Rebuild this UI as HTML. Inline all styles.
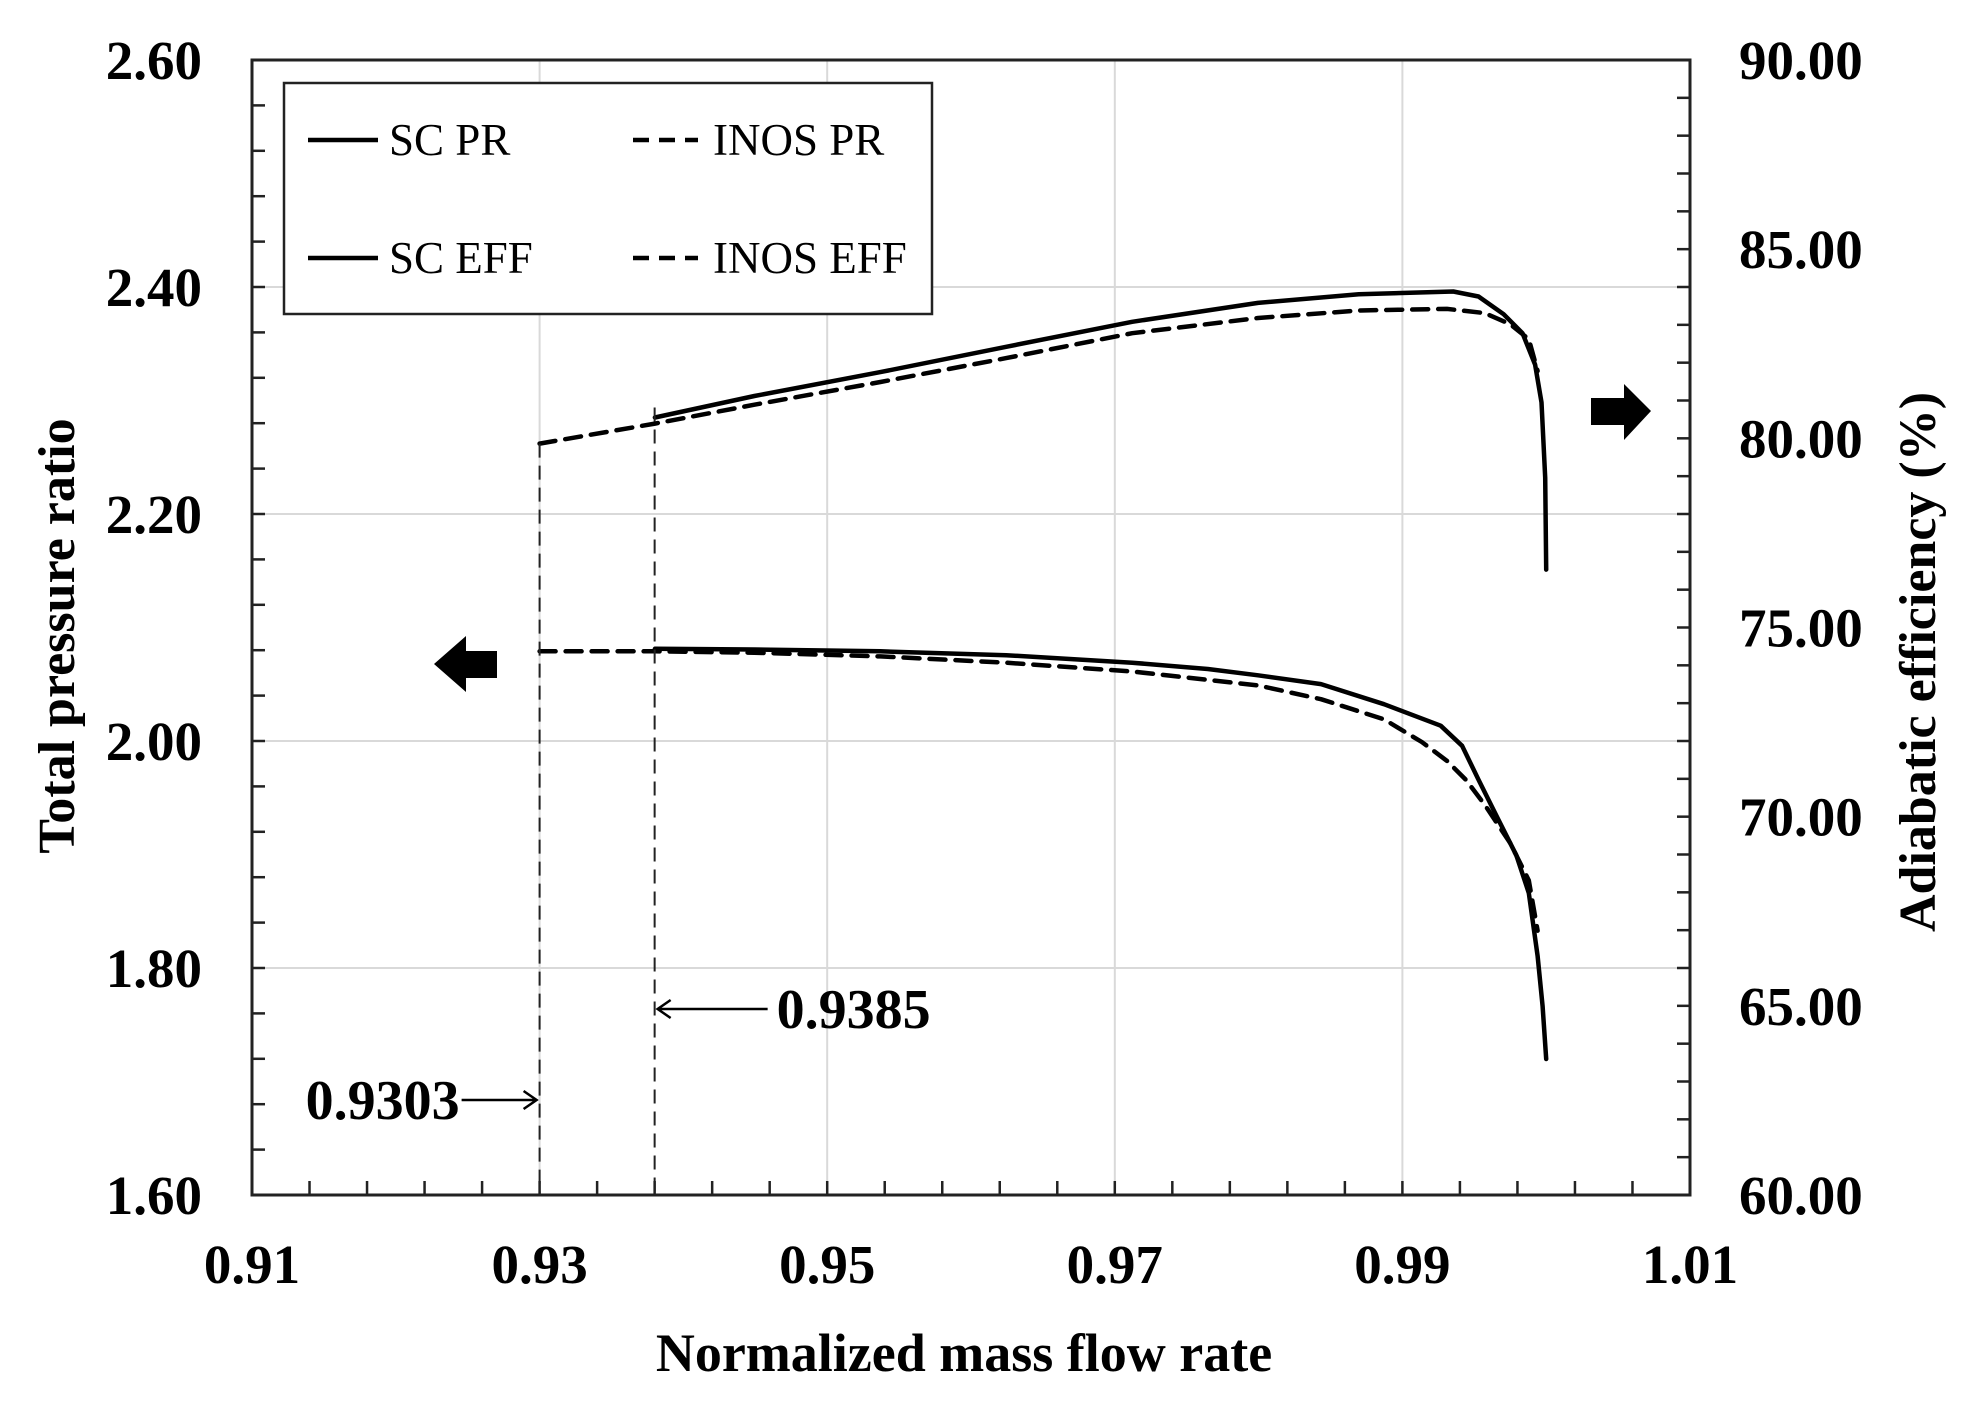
<!DOCTYPE html>
<html><head><meta charset="utf-8"><style>
html,body{margin:0;padding:0;background:#fff}
svg{display:block}
text{font-family:"Liberation Serif","Times New Roman",serif;fill:#000}
</style></head><body>
<svg id="chart" width="1972" height="1408" viewBox="0 0 1972 1408" xmlns="http://www.w3.org/2000/svg">
<g id="grid"></g>
<g id="ticks"></g>
<g id="series"></g>
<rect x="252" y="60" width="1438" height="1135" fill="none" stroke="#222" stroke-width="3"/>
<g id="labels"></g>
<text x="964" y="1371" font-size="54" font-weight="bold" text-anchor="middle">Normalized mass flow rate</text>
<text transform="translate(74,636) rotate(-90)" font-size="52" font-weight="bold" text-anchor="middle">Total pressure ratio</text>
<text transform="translate(1935,662) rotate(-90)" font-size="52" font-weight="bold" text-anchor="middle">Adiabatic efficiency (%)</text>
<g>
<rect x="284" y="83" width="648" height="231" fill="#fff" stroke="#222" stroke-width="2.5"/>
<line x1="308" y1="140" x2="378" y2="140" stroke="#000" stroke-width="4.5"/>
<text x="389" y="155" font-size="45">SC PR</text>
<line x1="633" y1="140" x2="698" y2="140" stroke="#000" stroke-width="4.5" stroke-dasharray="16,10"/>
<text x="713" y="155" font-size="45">INOS PR</text>
<line x1="308" y1="258" x2="378" y2="258" stroke="#000" stroke-width="4.5"/>
<text x="389" y="273" font-size="45">SC EFF</text>
<line x1="633" y1="258" x2="698" y2="258" stroke="#000" stroke-width="4.5" stroke-dasharray="16,10"/>
<text x="713" y="273" font-size="45">INOS EFF</text>
</g>
<polygon points="1591,398 1624,398 1624,384 1651,411 1624,440 1624,425 1591,425" fill="#000"/>
<polygon points="497,651 466,651 466,636 434,664 466,692 466,678 497,678" fill="#000"/>
<g id="annot"></g>
</svg>
<script>
const xTicks=[0.91,0.93,0.95,0.97,0.99,1.01];
const xTickLabels=["0.91","0.93","0.95","0.97","0.99","1.01"];
const yLeftTicks=[1.6,1.8,2.0,2.2,2.4,2.6];
const yLeftLabels=["1.60","1.80","2.00","2.20","2.40","2.60"];
const yRightTicks=[60,65,70,75,80,85,90];
const yRightLabels=["60.00","65.00","70.00","75.00","80.00","85.00","90.00"];
const scEffX=[0.93802,0.94494,0.95370,0.96245,0.97121,0.97996,0.98697,0.99354,0.99529,0.99704,0.99835,0.99923,0.99967,0.99993,1.0000];
const scEffY=[80.55,81.12,81.75,82.42,83.08,83.58,83.81,83.88,83.75,83.28,82.78,81.95,80.95,78.96,76.53];
const inosEffX=[0.9300,0.93802,0.94494,0.95370,0.96245,0.97121,0.97996,0.98697,0.99310,0.99573,0.99748,0.99879,0.9994];
const inosEffY=[79.86,80.39,80.89,81.49,82.12,82.78,83.18,83.38,83.42,83.31,83.02,82.62,81.78];
const scPrX=[0.93802,0.94494,0.95370,0.96245,0.97121,0.97647,0.97996,0.98434,0.98872,0.99266,0.99415,0.99529,0.9966,0.99792,0.99879,0.9994,0.99975,1.0000];
const scPrY=[2.0812,2.0806,2.0790,2.0756,2.0690,2.0634,2.0579,2.0501,2.0324,2.0135,1.9958,1.9659,1.9326,1.8994,1.8661,1.8107,1.7663,1.7198];
const inosPrX=[0.9300,0.93802,0.94494,0.95370,0.96245,0.97121,0.97996,0.98434,0.98872,0.99135,0.99310,0.99441,0.99573,0.99748,0.99879,0.9994];
const inosPrY=[2.0790,2.0790,2.0778,2.0745,2.0690,2.0612,2.0490,2.0368,2.0191,1.9991,1.9825,1.9659,1.9437,1.9104,1.8772,1.8329];
const surgeX=[0.9300,0.9380];
const surgeLabels=["0.9303","0.9385"];

const L=252,R=1690,T=60,B=1195;
const NS="http://www.w3.org/2000/svg";
function sx(v){return L+(v-0.91)/0.1*(R-L);}
function syL(v){return B-(v-1.6)/1.0*(B-T);}
function syR(v){return B-(v-60)/30*(B-T);}
function mk(tag,attrs,parent){const e=document.createElementNS(NS,tag);for(const k in attrs)e.setAttribute(k,attrs[k]);parent.appendChild(e);return e;}
const grid=document.getElementById('grid'),ticks=document.getElementById('ticks'),labels=document.getElementById('labels'),series=document.getElementById('series'),annot=document.getElementById('annot');

xTicks.forEach((v,i)=>{
  const x=sx(v);
  if(i>0&&i<xTicks.length-1){const g=mk('line',{x1:x,y1:T,x2:x,y2:B,stroke:'#d9d9d9','stroke-width':2},grid);
  
  }
  const t=mk('text',{x:x,y:1283,'font-size':55,'font-weight':'bold','text-anchor':'middle'},labels);
  t.textContent=xTickLabels[i];
  
  
});
for(let k=1;k<25;k++){const v=0.91+k*0.004;const x=sx(v);
  const m=mk('line',{x1:x,y1:B,x2:x,y2:B-14,stroke:'#222','stroke-width':2.5},ticks);
  
  }
yLeftTicks.forEach((v,i)=>{
  const y=syL(v);
  if(i>0&&i<yLeftTicks.length-1){const g=mk('line',{x1:L,y1:y,x2:R,y2:y,stroke:'#d9d9d9','stroke-width':2},grid);
  
  }
  const t=mk('text',{x:202,y:y+19,'font-size':55,'font-weight':'bold','text-anchor':'end'},labels);
  t.textContent=yLeftLabels[i];
  
  
});
for(let k=1;k<25;k++){const y=syL(1.6+k*0.04);
  const m=mk('line',{x1:L,y1:y,x2:L+13,y2:y,stroke:'#222','stroke-width':2.5},ticks);
  
  }
yRightTicks.forEach((v,i)=>{
  const y=syR(v);
  const t=mk('text',{x:1739,y:y+19,'font-size':55,'font-weight':'bold','text-anchor':'start'},labels);
  t.textContent=yRightLabels[i];
  
  
});
for(let k=1;k<30;k++){const y=syR(60+k);
  const m=mk('line',{x1:R,y1:y,x2:R-13,y2:y,stroke:'#222','stroke-width':2.5},ticks);
  
  }

function line(xs,ys,fy,dash,name){
  const d=xs.map((x,i)=>(i?'L':'M')+sx(x).toFixed(1)+','+fy(ys[i]).toFixed(1)).join(' ');
  const p=mk('path',{d:d,fill:'none',stroke:'#000','stroke-width':4.5,'stroke-linejoin':'round','stroke-linecap':'round'},series);
  if(dash)p.setAttribute('stroke-dasharray','16,10');
  
  
}
line(inosEffX,inosEffY,syR,true,'inos-eff-line');
line(scEffX,scEffY,syR,false,'sc-eff-line');
line(inosPrX,inosPrY,syL,true,'inos-pr-line');
line(scPrX,scPrY,syL,false,'sc-pr-line');

const tops=[syR(inosEffY[0]),syR(scEffY[0])-10];
surgeX.forEach((v,i)=>{
  const x=sx(v);
  const l=mk('line',{x1:x,y1:tops[i],x2:x,y2:B,stroke:'#222','stroke-width':2,'stroke-dasharray':'14,8'},annot);
  
  
});
const x0=sx(surgeX[0]),x1=sx(surgeX[1]);
const a0=mk('path',{d:`M${x0-78},1100 L${x0-3},1100 M${x0-16},1091 L${x0-3},1100 L${x0-16},1109`,fill:'none',stroke:'#000','stroke-width':2.5},annot);


const t0=mk('text',{x:x0-80,y:1119,'font-size':56,'font-weight':'bold','text-anchor':'end'},annot);
t0.textContent=surgeLabels[0];


const a1=mk('path',{d:`M${x1+113},1009 L${x1+3},1009 M${x1+16},1000 L${x1+3},1009 L${x1+16},1018`,fill:'none',stroke:'#000','stroke-width':2.5},annot);


const t1=mk('text',{x:x1+122,y:1028,'font-size':56,'font-weight':'bold','text-anchor':'start'},annot);
t1.textContent=surgeLabels[1];


</script>
</body></html>
